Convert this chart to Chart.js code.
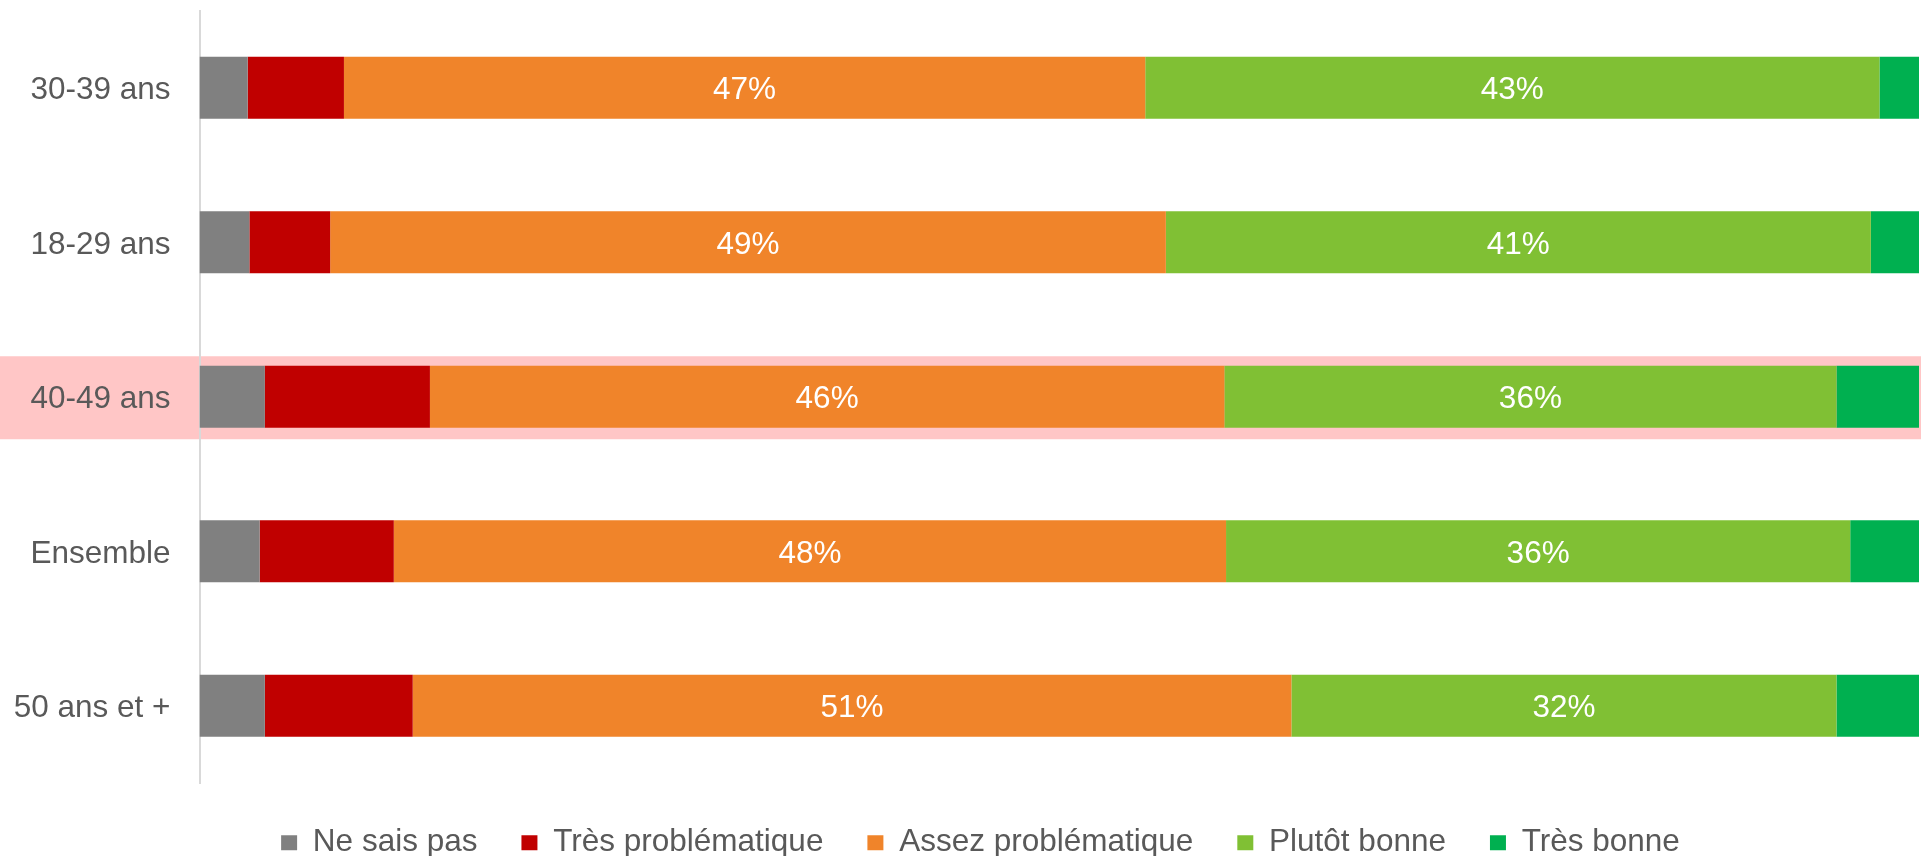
<!DOCTYPE html>
<html>
<head>
<meta charset="utf-8">
<script src="https://cdn.jsdelivr.net/npm/chart.js@4"></script>
<style>
  html, body { margin: 0; padding: 0; background: #ffffff; }
  #wrap { width: 1921px; height: 856px; }
</style>
</head>
<body>
<div id="wrap"><canvas id="chart" width="1921" height="856"></canvas></div>
<script>
const categories = ["30-39 ans", "18-29 ans", "40-49 ans", "Ensemble", "50 ans et +"];
const seriesNames = ["Ne sais pas", "Très problématique", "Assez problématique", "Plutôt bonne", "Très bonne"];

const neSaisPas   = [2.8, 2.9, 3.8, 3.5, 3.8];
const tresProb    = [5.6, 4.7, 9.6, 7.8, 8.6];
const assezProb   = [46.6, 48.6, 46.2, 48.4, 51.1];
const plutotBonne = [42.7, 41.0, 35.6, 36.3, 31.7];
const tresBonne   = [2.3, 2.8, 4.8, 4.0, 4.8];

const highlighted = "40-49 ans";
const labelledSeries = ["Assez problématique", "Plutôt bonne"];

const colors = ["#808080", "#C00000", "#F0842A", "#80C034", "#00B050"];
const font = "'Liberation Sans', Arial, sans-serif";

// pink band behind the highlighted row
const highlightBand = {
  id: "highlightBand",
  beforeDraw(chart) {
    const y = chart.scales.y;
    const idx = categories.indexOf(highlighted);
    if (idx < 0) return;
    const cy = y.getPixelForValue(idx);
    const ctx = chart.ctx;
    ctx.save();
    ctx.fillStyle = "#FFC6C6";
    ctx.fillRect(0, cy - 40.5, chart.width, 83);
    ctx.restore();
  }
};

// white percentage labels in the two big segments
const valueLabels = {
  id: "valueLabels",
  afterDatasetsDraw(chart) {
    const ctx = chart.ctx;
    ctx.save();
    ctx.fillStyle = "#ffffff";
    ctx.font = "31.5px " + font;
    ctx.textAlign = "center";
    ctx.textBaseline = "middle";
    chart.data.datasets.forEach((ds, i) => {
      if (!labelledSeries.includes(ds.label)) return;
      chart.getDatasetMeta(i).data.forEach((bar, j) => {
        const p = bar.getProps(["x", "y", "base"], true);
        ctx.fillText(Math.round(ds.data[j]) + "%", (p.x + p.base) / 2, p.y + 3);
      });
    });
    ctx.restore();
  }
};

// legend sits a bit right of the canvas centre in the original
const legendShift = {
  id: "legendShift",
  afterLayout(chart) {
    chart.legend.left += 21;
    chart.legend.right += 21;
  }
};

const values = [neSaisPas, tresProb, assezProb, plutotBonne, tresBonne];

new Chart(document.getElementById("chart"), {
  type: "bar",
  data: {
    labels: categories,
    datasets: seriesNames.map((name, i) => ({
      label: name,
      data: values[i],
      backgroundColor: colors[i],
      borderWidth: 0,
      barPercentage: 0.4,
      categoryPercentage: 1
    }))
  },
  options: {
    indexAxis: "y",
    responsive: false,
    animation: false,
    devicePixelRatio: 1,
    layout: { padding: { top: 10.5, right: 2, bottom: 0, left: 0 } },
    plugins: {
      tooltip: { enabled: false },
      legend: {
        position: "bottom",
        maxHeight: 73,
        labels: {
          color: "#595959",
          font: { family: font, size: 31.5 },
          boxWidth: 16,
          boxHeight: 15,
          padding: 44
        }
      }
    },
    scales: {
      x: {
        stacked: true,
        min: 0,
        max: 100,
        display: false
      },
      y: {
        stacked: true,
        afterFit(scale) {
          scale.width = 199.5;
          scale.paddingTop = 0;
          scale.paddingBottom = 0;
        },
        grid: { display: false, drawTicks: false },
        border: { display: true, color: "#D9D9D9", width: 2 },
        ticks: {
          color: "#595959",
          font: { family: font, size: 31.5 },
          padding: 29,
          labelOffset: 3
        }
      }
    }
  },
  plugins: [highlightBand, valueLabels, legendShift]
});
</script>
</body>
</html>
